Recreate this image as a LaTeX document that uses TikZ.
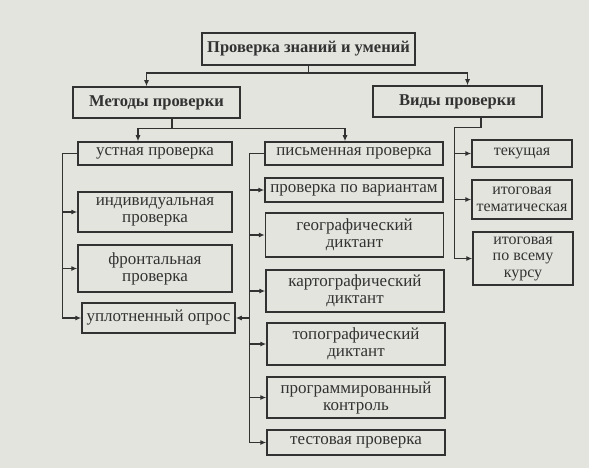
\documentclass[tikz,border=0pt]{standalone}
\usepackage{fontspec}
\setmainfont{Liberation Serif}
\usetikzlibrary{arrows.meta,calc}
\definecolor{ink}{RGB}{50,50,50}
\definecolor{paper}{RGB}{228,228,223}
\begin{document}
\begin{tikzpicture}[
  x=1pt, y=-1pt,
  font=\fontsize{17}{17}\selectfont,
  boxbase/.style={draw=ink, line width=1.5pt, text=ink, align=center,
              inner sep=1pt},
  headbox/.style={boxbase, font=\fontsize{16.5}{17}\selectfont\bfseries},
  colL/.style={boxbase, minimum width=154pt},
  colM/.style={boxbase, minimum width=178pt},
  colR/.style={boxbase, minimum width=100pt, font=\fontsize{16}{16.5}\selectfont},
  arr/.style={-{Latex[length=6pt,width=5pt]}, line width=1.1pt, ink},
  ln/.style={line width=1.1pt, ink},
]
\fill[paper] (0,0) rectangle (589,468);
\useasboundingbox (0,0) rectangle (589,468);

% headings
\node[headbox, minimum width=213pt, minimum height=32pt] (top) at (308.5,49) {Проверка знаний и умений};
\node[headbox, minimum width=167pt, minimum height=31pt] (met) at (156.5,102.5) {Методы проверки};
\node[headbox, minimum width=169pt, minimum height=31pt] (vid) at (457.5,101.5) {Виды проверки};

% left column
\node[colL, minimum height=23pt] (ustn) at (155,153.5) {устная проверка};
\node[colL, minimum height=40pt] (indiv) at (155,212) {индивидуальная\\ проверка};
\node[colL, minimum height=47pt] (front) at (155,268.5) {фронтальная\\ проверка};
\node[colL, minimum height=30pt, minimum width=153pt] (uplot) at (158.5,318) {уплотненный опрос};

% middle column
\node[colM, minimum height=23pt] (pism) at (354,153.5) {письменная проверка};
\node[colM, minimum height=24pt] (var) at (354,190) {проверка по вариантам};
\node[colM, minimum height=44pt] (geo) at (354.5,235) {географический\\ диктант};
\node[colM, minimum height=42pt] (karto) at (355,291) {картографический\\ диктант};
\node[colM, minimum height=42pt] (topo) at (356,344) {топографический\\ диктант};
\node[colM, minimum height=41pt] (prog) at (356,397.5) {программированный\\ контроль};
\node[colM, minimum height=25pt] (test) at (356,442.5) {тестовая проверка};

% right column
\node[colR, minimum height=27pt] (tek) at (522,153.5) {текущая};
\node[colR, minimum height=39pt] (itog) at (522,199.5) {итоговая\\ тематическая};
\node[colR, minimum height=53pt] (kurs) at (523,258.5) {итоговая\\ по всему\\ курсу};

% top branching
\coordinate (t0) at (top.south |- 0,73);
\draw[ln] (top.south) -- (t0);
\draw[arr] (t0) -| ($(met.north)+(-10,0)$);
\draw[arr] (t0) -| ($(vid.north)+(10,0)$);

% methods branching
\coordinate (m0) at ($(met.south)+(15.5,10)$);
\draw[ln] (met.south -| m0) -- (m0);
\draw[arr] (m0) -| ($(ustn.north)+(-17,0)$);
\draw[arr] (m0) -| ($(pism.north)+(-9,0)$);

% oral trunk
\coordinate (lt) at ($(ustn.west)+(-15,0)$);
\draw[arr] (ustn.west) -- (lt) |- (uplot.west);
\draw[arr] (lt |- indiv.west) -- (indiv.west);
\draw[arr] (lt |- front.west) -- (front.west);

% written trunk
\coordinate (mt) at ($(pism.west)+(-15,0)$);
\draw[arr] (pism.west) -- (mt) |- (test.west);
\foreach \n in {var,geo,karto,topo,prog}
  \draw[arr] (mt |- \n.west) -- (\n.west);
\draw[arr] (mt |- uplot.east) -- (uplot.east);

% kinds trunk
\coordinate (r0) at ($(vid.south)+(23.5,10)$);
\coordinate (rt) at ($(tek.west)+(-17,0)$);
\draw[arr] (vid.south -| r0) -- (r0) -| (rt) |- (kurs.west);
\draw[arr] (rt |- tek.west) -- (tek.west);
\draw[arr] (rt |- itog.west) -- (itog.west);
\end{tikzpicture}
\end{document}
